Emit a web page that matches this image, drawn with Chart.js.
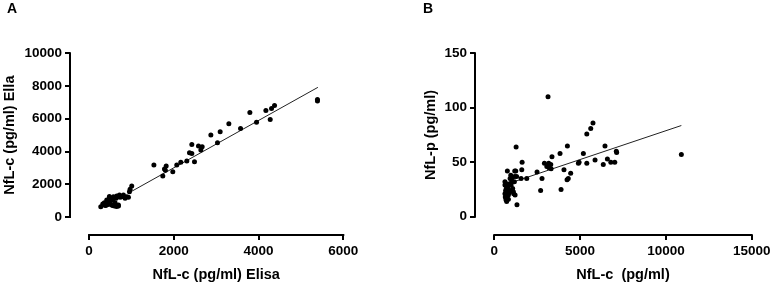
<!DOCTYPE html>
<html><head><meta charset="utf-8">
<script src="https://cdn.jsdelivr.net/npm/chart.js@4/dist/chart.umd.min.js"></script>
<style>
html,body{margin:0;padding:0;background:#fff;overflow:hidden;width:770px;height:287px;position:relative;}
#ca{position:absolute;left:0;top:0;}
#cb{position:absolute;left:385px;top:0;}
</style></head><body>
<canvas id="ca" width="385" height="287"></canvas>
<canvas id="cb" width="400" height="287"></canvas>
<script>
// ---- Panel A data: NfL-c Elisa (x) vs NfL-c Ella (y) ----
const elisaA = [276,323,362,402,417,457,480,496,535,559,575,598,614,638,653,693,717,732,771,811,850,889,929,953,968,1007,
  380,450,560,650,614,693,480,
  1530,1740,1780,1800,1820,1976,2070,2165,2307,2488,2370,2425,2425,2582,2669,2638,2874,3031,3094,3299,3575,3795,3952,4173,4275,4306,4377,5390,5390];
const ellaA = [630,793,874,712,1037,834,1179,935,732,1037,1240,671,874,1139,1281,732,1342,1200,1240,1342,1139,1240,1200,1545,1688,1891,
  700,760,700,640,732,671,1250,
  3172,2510,2930,2850,3111,2765,3172,3337,3416,3375,3922,3886,4433,4331,4290,4087,5002,4534,5205,5693,5409,6385,5795,6506,5958,6628,6811,7080,7180];
const fitAx = [920, 5400];
const fitAy = [1445, 7920];
const ticksAx = [0, 2000, 4000, 6000];
const ticksAy = [0, 2000, 4000, 6000, 8000, 10000];

// ---- Panel B data: NfL-c (x) vs NfL-p (y) ----
const nflcB = [3130,10900,5750,5620,5390,6450,4260,3830,3360,5190,6590,7110,7130,7020,6790,6350,5870,5390,4940,4900,4450,4310,4240,4060,3890,3170,3290,2920,3060,3190,3310,2780,2700,2490,1890,1620,1600,1560,1270,1320,1190,1190,1170,1130,1210,
  760,920,1010,980,1070,1110,620,620,660,680,640,700,680,720,820,780,860,900,820,960,1010,740,620,700,1250,1300,870];
const nflpB = [110,57,86,81,76,65,65,58,55,58,53,60,59,50,50,48,52,49,50,49,40,35,34,43,25,49,48,49,46,45,44,35,24,41,35,50,43,35,64,11,42,37,32,21,20,
  42,35,32,29,26,23,32,29,24,22,18,17,15.5,14,16,27,30,24,20,38,35,30,21,26,42,37,22];
const fitBx = [1000, 10900];
const fitBy = [31.3, 83.7];
const ticksBx = [0, 5000, 10000, 15000];
const ticksBy = [0, 50, 100, 150];

const FONT = '"Liberation Sans", Arial, Helvetica, sans-serif';

const axesPlugin = {
  id: 'offsetAxes',
  afterDraw(chart, args, o) {
    const ctx = chart.ctx, xs = chart.scales.x, ys = chart.scales.y;
    ctx.save();
    ctx.strokeStyle = '#000'; ctx.lineWidth = 2; ctx.lineCap = 'square';
    const x0 = xs.getPixelForValue(o.xFrom), x1 = xs.getPixelForValue(o.xTo);
    const y0 = ys.getPixelForValue(o.yFrom), y1 = ys.getPixelForValue(o.yTo);
    ctx.beginPath();
    ctx.moveTo(x0, xs.top); ctx.lineTo(x1, xs.top);
    ctx.moveTo(ys.right, y0); ctx.lineTo(ys.right, y1);
    ctx.stroke();
    ctx.fillStyle = '#000';
    ctx.font = 'bold 14.5px ' + FONT;
    ctx.textAlign = 'center'; ctx.textBaseline = 'middle';
    ctx.fillText(o.xTitle, (x0 + x1) / 2, o.xTitleY);
    ctx.save();
    ctx.translate(o.yTitleX, (y0 + y1) / 2);
    ctx.rotate(-Math.PI / 2);
    ctx.fillText(o.yTitle, 0, 0);
    ctx.restore();
    ctx.font = 'bold 14px ' + FONT;
    ctx.textAlign = 'left'; ctx.textBaseline = 'top';
    ctx.fillText(o.letter, o.letterX, o.letterY);
    ctx.restore();
  }
};

function makeChart(id, xs, ys, fx, fy, tx, ty, cfg) {
  const pts = xs.map((x, i) => ({x: x, y: ys[i]}));
  const fit = fx.map((x, i) => ({x: x, y: fy[i]}));
  const tickFont = {family: FONT, size: 13.5, weight: 'bold'};
  const plain = v => String(v);
  return new Chart(document.getElementById(id), {
    type: 'scatter',
    data: {datasets: [
      {type: 'line', data: fit, borderColor: '#222', borderWidth: 1, pointRadius: 0, fill: false, order: 2},
      {data: pts, backgroundColor: '#000', borderColor: '#000', pointRadius: 2.5, borderWidth: 0, order: 1}
    ]},
    options: {
      responsive: false, animation: false, devicePixelRatio: 1,
      layout: {padding: {left: 0, top: 53.3, right: cfg.padRight, bottom: 0}},
      plugins: {legend: {display: false}, tooltip: {enabled: false}, offsetAxes: cfg.axes},
      scales: {
        x: {
          type: 'linear', min: cfg.xmin, max: tx[tx.length - 1],
          afterBuildTicks: s => { s.ticks = tx.map(v => ({value: v})); },
          afterFit: s => { s.height = 52; },
          grid: {display: true, drawOnChartArea: false, drawTicks: true, tickLength: 5, color: '#000', lineWidth: 2},
          border: {display: false},
          ticks: {font: tickFont, color: '#000', padding: 3, autoSkip: false, maxRotation: 0, callback: plain}
        },
        y: {
          type: 'linear', min: cfg.ymin, max: ty[ty.length - 1],
          afterBuildTicks: s => { s.ticks = ty.map(v => ({value: v})); },
          afterFit: s => { s.width = cfg.yWidth; },
          grid: {display: true, drawOnChartArea: false, drawTicks: true, tickLength: 5, color: '#000', lineWidth: 2},
          border: {display: false},
          ticks: {font: tickFont, color: '#000', padding: 3, autoSkip: false, callback: plain}
        }
      }
    },
    plugins: [axesPlugin]
  });
}

makeChart('ca', elisaA, ellaA, fitAx, fitAy, ticksAx, ticksAy, {
  padRight: 41.7, xmin: -450, ymin: -1100, yWidth: 70,
  axes: {xFrom: 0, xTo: 6000, yFrom: 0, yTo: 10000, xTitle: 'NfL-c (pg/ml) Elisa', yTitle: 'NfL-c (pg/ml) Ella',
    xTitleY: 275, yTitleX: 10, letter: 'A', letterX: 7, letterY: 2}
});
makeChart('cb', nflcB, nflpB, fitBx, fitBy, ticksBx, ticksBy, {
  padRight: 33.3, xmin: -1125, ymin: -16.8, yWidth: 90,
  axes: {xFrom: 0, xTo: 15000, yFrom: 0, yTo: 150, xTitle: 'NfL-c  (pg/ml)', yTitle: 'NfL-p (pg/ml)',
    xTitleY: 275, yTitleX: 46, letter: 'B', letterX: 38, letterY: 2}
});
</script>
</body></html>
